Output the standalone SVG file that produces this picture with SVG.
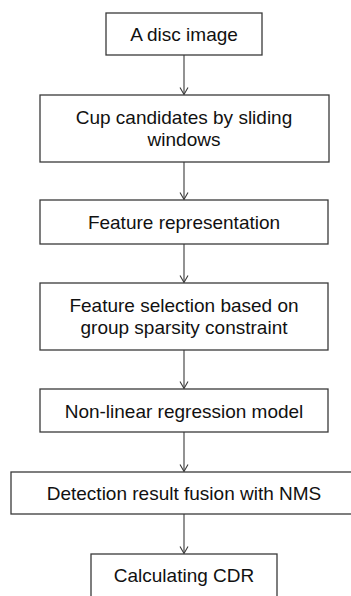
<svg xmlns="http://www.w3.org/2000/svg" width="351" height="596" viewBox="0 0 351 596">
  <style>
    .box { fill: #ffffff; stroke: #3a3a3a; stroke-width: 1.3; }
    .lbl { font-family: "Liberation Sans", Arial, Helvetica, sans-serif; font-size: 19px; fill: #111111; text-anchor: middle; }
    .edge { fill: none; stroke: #3a3a3a; stroke-width: 1.1; }
  </style>
  <defs>
    <!-- open V arrowhead, drawn along +x so orient="auto" points it down the line -->
    <marker id="arrow" markerWidth="10" markerHeight="10" refX="8" refY="5" orient="auto" markerUnits="userSpaceOnUse" viewBox="0 0 10 10">
      <path d="M1,1 L8,5 L1,9" fill="none" stroke="#3a3a3a" stroke-width="1.1"/>
    </marker>
  </defs>
  <rect width="351" height="596" fill="#ffffff"/>

  <g id="edges">
    <line class="edge" x1="184" y1="55" x2="184" y2="94.5" marker-end="url(#arrow)"/>
    <line class="edge" x1="184" y1="162" x2="184" y2="199.5" marker-end="url(#arrow)"/>
    <line class="edge" x1="184" y1="244" x2="184" y2="282.5" marker-end="url(#arrow)"/>
    <line class="edge" x1="184" y1="350" x2="184" y2="388.5" marker-end="url(#arrow)"/>
    <line class="edge" x1="184" y1="432" x2="184" y2="471.5" marker-end="url(#arrow)"/>
    <line class="edge" x1="184" y1="514" x2="184" y2="553.5" marker-end="url(#arrow)"/>
  </g>

  <g id="disc-image">
    <rect class="box" x="106" y="13" width="156" height="42"/>
    <text class="lbl" x="184" y="41">A disc image</text>
  </g>

  <g id="cup-candidates">
    <rect class="box" x="40" y="95" width="289" height="67"/>
    <text class="lbl" x="184" y="124.3">Cup candidates by sliding</text>
    <text class="lbl" x="184" y="146.3">windows</text>
  </g>

  <g id="feature-representation">
    <rect class="box" x="40" y="200" width="288" height="44"/>
    <text class="lbl" x="184" y="229">Feature representation</text>
  </g>

  <g id="feature-selection">
    <rect class="box" x="40" y="283" width="288" height="67"/>
    <text class="lbl" x="184" y="312.3">Feature selection based on</text>
    <text class="lbl" x="184" y="334.3">group sparsity constraint</text>
  </g>

  <g id="regression-model">
    <rect class="box" x="40" y="389" width="288" height="43"/>
    <text class="lbl" x="184" y="417.5">Non-linear regression model</text>
  </g>

  <g id="nms-fusion">
    <rect class="box" x="11" y="472" width="348" height="42"/>
    <text class="lbl" x="184" y="500">Detection result fusion with NMS</text>
  </g>

  <g id="cdr">
    <rect class="box" x="91" y="554" width="186" height="50"/>
    <text class="lbl" x="184" y="582">Calculating CDR</text>
  </g>
</svg>
